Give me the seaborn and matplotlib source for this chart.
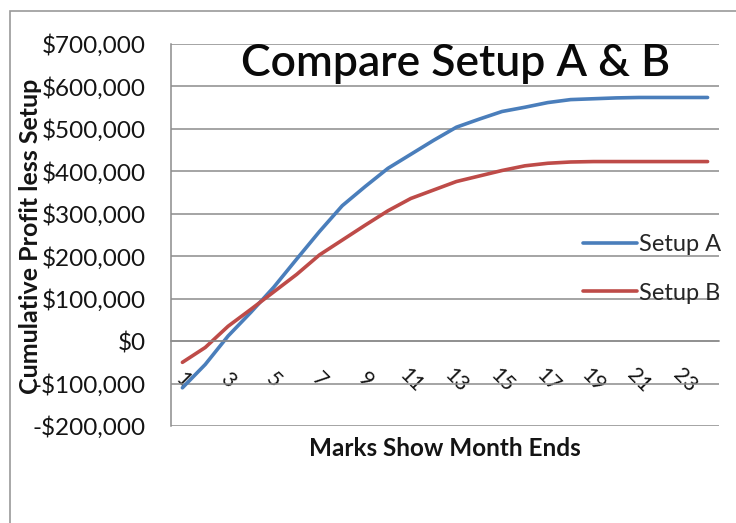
import numpy as np
import pandas as pd
import matplotlib
matplotlib.use('Agg')
import matplotlib.pyplot as plt
import matplotlib.ticker as mticker
from matplotlib.patches import Rectangle
import seaborn as sns

CHART_TITLE = 'Compare Setup A & B'
Y_AXIS_LABEL = 'Cumulative Profit less Setup'
X_AXIS_LABEL = 'Marks Show Month Ends'

MONTHS = list(range(1, 25))
SETUP_A = [-110000, -55000, 12000, 68000, 127000, 193000, 258000, 319000,
           364000, 407000, 440000, 473000, 504000, 523000, 541000, 551000,
           562000, 569000, 571000, 573000, 574000, 574000, 574000, 574000]
SETUP_B = [-50000, -15000, 35000, 75000, 116000, 157000, 203000, 238000,
           273000, 307000, 336000, 356000, 376000, 389000, 402000, 413000,
           419000, 422000, 423000, 423000, 423000, 423000, 423000, 423000]
SERIES_NAMES = ['Setup A', 'Setup B']
Y_TICKS = list(range(-200000, 700001, 100000))
X_TICK_LABELS = [str(m) for m in MONTHS[::2]]

COLORS = {'Setup A': '#4a7ebb', 'Setup B': '#be4b48'}
GRID_COLOR = '#8c8c8c'
TEXT_COLOR = '#141414'
FONT = ['Lato', 'DejaVu Sans']


def money(v, pos=None):
  if v < 0:
    return '-${:,.0f}'.format(abs(v))
  return '${:,.0f}'.format(v)


def main():
  df = pd.DataFrame({
    'month': MONTHS * 2,
    'profit': SETUP_A + SETUP_B,
    'setup': [SERIES_NAMES[0]] * len(MONTHS) + [SERIES_NAMES[1]] * len(MONTHS),
  })

  sns.set_style('white')
  plt.rcParams['font.family'] = FONT

  fig = plt.figure(figsize=(7.36, 5.23), dpi=100)
  ax = fig.add_axes([171 / 736, 1 - 426 / 523, 548 / 736, 382 / 523])

  # outer chart border (cropped on the right and bottom)
  fig.patches.append(Rectangle((10 / 736, -0.05), 1.0, 1 - 11 / 523 + 0.05,
                               transform=fig.transFigure, fill=False,
                               edgecolor='#9a9a9a', linewidth=1.2))

  sns.lineplot(data=df, x='month', y='profit', hue='setup', palette=COLORS,
               linewidth=2.6, ax=ax, legend=True)

  ax.set_xlim(0.5, 24.5)
  ax.set_ylim(-200000, 700000)
  ax.set_yticks(Y_TICKS)
  ax.yaxis.set_major_formatter(mticker.FuncFormatter(money))
  ax.grid(axis='y', color=GRID_COLOR, linewidth=1.1)
  ax.set_axisbelow(True)

  for side in ['top', 'right']:
    ax.spines[side].set_visible(False)
  ax.spines['left'].set_color(GRID_COLOR)
  ax.spines['left'].set_linewidth(1.1)
  ax.spines['bottom'].set_position(('data', 0))
  ax.spines['bottom'].set_color(GRID_COLOR)
  ax.spines['bottom'].set_linewidth(1.1)

  # category boundaries as major ticks, odd month labels as minor ticks
  ax.set_xticks(np.arange(0.5, 25, 1))
  ax.set_xticklabels([])
  ax.set_xticks(MONTHS[::2], minor=True)
  ax.set_xticklabels(X_TICK_LABELS, minor=True, rotation=-45,
                     ha='center', va='center', fontsize=15, color=TEXT_COLOR)
  ax.tick_params(axis='x', which='major', direction='out', length=7,
                 width=1.1, color=GRID_COLOR)
  ax.tick_params(axis='x', which='minor', length=0, pad=28)
  ax.tick_params(axis='y', direction='out', length=6, width=1.1,
                 color=GRID_COLOR, labelsize=17.5, labelcolor=TEXT_COLOR,
                 pad=12)

  ax.set_xlabel('')
  ax.set_ylabel('')
  fig.text(445 / 736, 1 - 449 / 523, X_AXIS_LABEL, ha='center', va='center',
           fontsize=17.5, fontweight='bold', color=TEXT_COLOR)
  fig.text(31 / 736, 1 - 236 / 523, Y_AXIS_LABEL, ha='center', va='center',
           rotation=90, fontsize=18, fontweight='bold', color=TEXT_COLOR)
  fig.text(456 / 736, 1 - 64 / 523, CHART_TITLE, ha='center', va='center',
           fontsize=32, fontweight='semibold', color='#0a0a0a')

  handles, labels = ax.get_legend_handles_labels()
  ax.legend(handles, labels, frameon=False, loc='center left',
            bbox_to_anchor=(571 / 736, 1 - 269 / 523),
            bbox_transform=fig.transFigure, fontsize=17, handlelength=2.3,
            handletextpad=0.08, labelspacing=1.15, borderpad=0)

  fig.savefig('out.png', dpi=100)


if __name__ == '__main__':
  main()
